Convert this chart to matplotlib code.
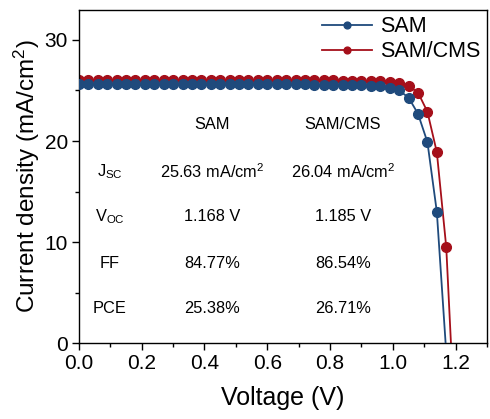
import matplotlib
matplotlib.use("Agg")
import matplotlib.pyplot as plt
from matplotlib.ticker import MultipleLocator

# ====================================
# DATA
# ====================================

sam_v = [0.00, 0.03, 0.06, 0.09, 0.12, 0.15, 0.18, 0.21, 0.24, 0.27,
         0.30, 0.33, 0.36, 0.39, 0.42, 0.45, 0.48, 0.51, 0.54, 0.57,
         0.60, 0.63, 0.66, 0.69, 0.72, 0.75, 0.78, 0.81, 0.84, 0.87,
         0.90, 0.93, 0.96, 0.99, 1.02, 1.05, 1.08, 1.11, 1.14, 1.168]
sam_j = [25.63, 25.63, 25.63, 25.63, 25.63, 25.63, 25.63, 25.63, 25.63, 25.63,
         25.63, 25.63, 25.63, 25.63, 25.63, 25.62, 25.62, 25.62, 25.62, 25.62,
         25.61, 25.61, 25.61, 25.60, 25.60, 25.59, 25.58, 25.57, 25.55, 25.53,
         25.50, 25.46, 25.40, 25.28, 25.00, 24.30, 22.70, 19.90, 13.00, 0.0]

cms_v = [0.00, 0.03, 0.06, 0.09, 0.12, 0.15, 0.18, 0.21, 0.24, 0.27,
         0.30, 0.33, 0.36, 0.39, 0.42, 0.45, 0.48, 0.51, 0.54, 0.57,
         0.60, 0.63, 0.66, 0.69, 0.72, 0.75, 0.78, 0.81, 0.84, 0.87,
         0.90, 0.93, 0.96, 0.99, 1.02, 1.05, 1.08, 1.11, 1.14, 1.17, 1.185]
cms_j = [26.04, 26.04, 26.04, 26.04, 26.04, 26.04, 26.04, 26.04, 26.04, 26.04,
         26.04, 26.04, 26.04, 26.04, 26.04, 26.03, 26.03, 26.03, 26.03, 26.03,
         26.02, 26.02, 26.02, 26.01, 26.01, 26.00, 26.00, 25.99, 25.98, 25.97,
         25.95, 25.93, 25.90, 25.85, 25.75, 25.45, 24.80, 22.90, 18.90, 9.50, 0.0]

labels = ["SAM", "SAM/CMS"]
row_names = [r"J$_{\mathrm{SC}}$", r"V$_{\mathrm{OC}}$", "FF", "PCE"]
sam_params = [r"25.63 mA/cm$^{2}$", "1.168 V", "84.77%", "25.38%"]
cms_params = [r"26.04 mA/cm$^{2}$", "1.185 V", "86.54%", "26.71%"]

blue = "#1F4A7C"
red = "#A50F1A"

# ====================================
# STYLE
# ====================================

plt.rcParams["font.family"] = ["Liberation Sans", "DejaVu Sans"]
plt.rcParams["mathtext.fontset"] = "custom"
plt.rcParams["mathtext.rm"] = "Liberation Sans"
plt.rcParams["mathtext.it"] = "Liberation Sans"
plt.rcParams["mathtext.default"] = "regular"

fig = plt.figure(figsize=(4.9, 4.19), dpi=100)
ax = fig.add_axes([0.161, 0.181, 0.833, 0.796])

# ====================================
# CURVES
# ====================================

ax.plot(sam_v, sam_j, color=blue, lw=1.3, marker="o", ms=7.0,
        markevery=list(range(len(sam_v) - 1)), label=labels[0], zorder=3)
ax.plot(cms_v, cms_j, color=red, lw=1.3, marker="o", ms=7.0,
        markevery=list(range(len(cms_v) - 1)), label=labels[1], zorder=2)

ax.set_xlim(0, 1.3)
ax.set_ylim(0, 33)
ax.xaxis.set_major_locator(MultipleLocator(0.2))
ax.xaxis.set_minor_locator(MultipleLocator(0.1))
ax.yaxis.set_major_locator(MultipleLocator(10))
ax.yaxis.set_minor_locator(MultipleLocator(5))
ax.tick_params(which="both", direction="out", width=1.0, labelsize=15, pad=3)
ax.tick_params(which="major", length=5)
ax.tick_params(which="minor", length=3)
for s in ax.spines.values():
    s.set_linewidth(1.0)

ax.set_xlabel("Voltage (V)", fontsize=18, labelpad=9)
ax.set_ylabel(r"Current density (mA/cm$^{2}$)", fontsize=17.5, labelpad=2)

leg = ax.legend(loc="upper right", frameon=False, fontsize=15.5,
                handlelength=2.3, handletextpad=0.4, markerscale=0.7,
                borderaxespad=0.1, labelspacing=0.2, borderpad=0.2)

# ====================================
# PARAMETER TABLE
# ====================================

col_x = [0.098, 0.424, 0.841]
row_y = [17.0, 12.5, 7.9, 3.4]
fs = 11.8
ax.text(col_x[1], 21.6, labels[0], ha="center", va="center", fontsize=fs)
ax.text(col_x[2], 21.6, labels[1], ha="center", va="center", fontsize=fs)
for name, a, b, y in zip(row_names, sam_params, cms_params, row_y):
    ax.text(col_x[0], y, name, ha="center", va="center", fontsize=fs)
    ax.text(col_x[1], y, a, ha="center", va="center", fontsize=fs)
    ax.text(col_x[2], y, b, ha="center", va="center", fontsize=fs)

plt.savefig("out.png", dpi=100)
plt.close()
